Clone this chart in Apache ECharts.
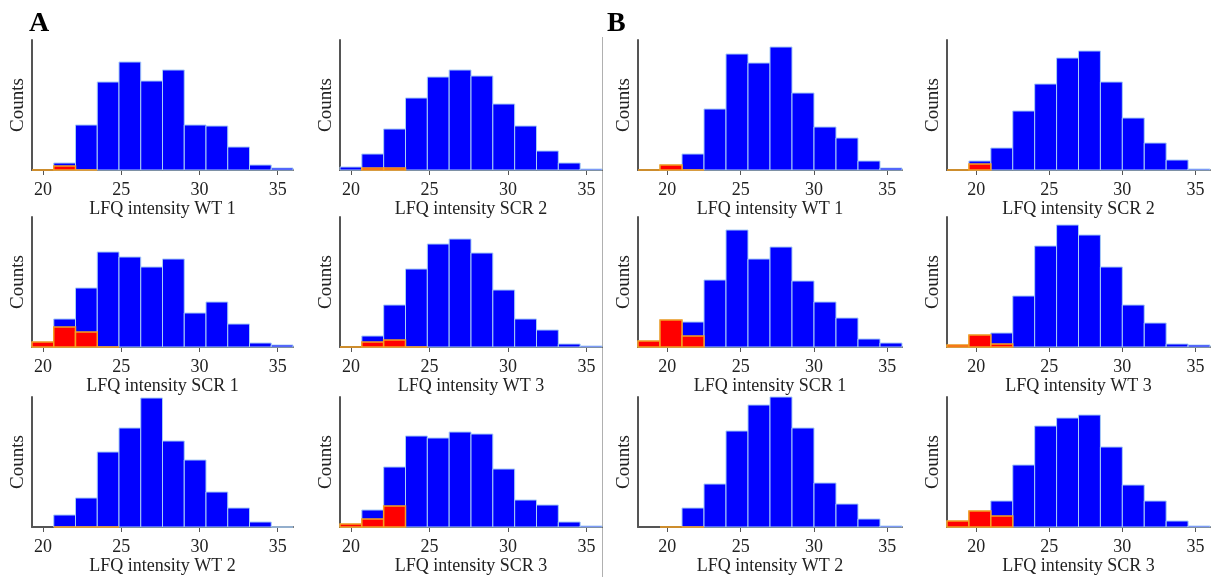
<!DOCTYPE html>
<html lang="en">
<head>
<meta charset="UTF-8">
<script src="https://cdn.jsdelivr.net/npm/echarts@6/dist/echarts.min.js"></script>
<title>LFQ intensity histograms</title>
<style>
  html, body { margin: 0; padding: 0; background: #fff; }
</style>
</head>
<body>
<div id="main" style="width: 1212px;height:577px;"></div>
<script type="text/javascript">
    // bin edges for the two blocks (A and B)
    var binsA = [19.3, 20.69, 22.08, 23.47, 24.86, 26.25, 27.64, 29.03, 30.42, 31.81, 33.2, 34.59, 35.98];
    var binsB = [18, 19.5, 21, 22.5, 24, 25.5, 27, 28.5, 30, 31.5, 33, 34.5, 36];
    var xTicks = [20, 25, 30, 35];

    // panel order: row by row, left to right inside each block
    var namesA = ['LFQ intensity WT 1', 'LFQ intensity SCR 2', 'LFQ intensity SCR 1', 'LFQ intensity WT 3', 'LFQ intensity WT 2', 'LFQ intensity SCR 3'];
    var namesB = ['LFQ intensity WT 1', 'LFQ intensity SCR 2', 'LFQ intensity SCR 1', 'LFQ intensity WT 3', 'LFQ intensity WT 2', 'LFQ intensity SCR 3'];

    // all proteins (blue)
    var allA_WT1  = [null, 7, 45, 88, 108, 89, 100, 45, 44, 23, 5, 2];
    var allA_SCR2 = [3, 16, 41, 72, 93, 100, 94, 66, 44, 19, 7, 1];
    var allA_SCR1 = [5, 28, 59, 95, 90, 80, 88, 34, 45, 23, 4, 2];
    var allA_WT3  = [null, 11, 42, 78, 103, 108, 94, 57, 28, 17, 3, 1];
    var allA_WT2  = [null, 12, 29, 75, 99, 129, 86, 67, 35, 19, 5, 0];
    var allA_SCR3 = [3, 17, 60, 91, 89, 95, 93, 58, 27, 22, 5, 1];

    var allB_WT1  = [null, 5, 16, 61, 116, 107, 123, 77, 43, 32, 9, 2];
    var allB_SCR2 = [null, 9, 22, 59, 86, 112, 119, 88, 52, 27, 10, 1];
    var allB_SCR1 = [6, 27, 25, 67, 117, 88, 100, 66, 45, 29, 8, 4];
    var allB_WT3  = [2, 12, 14, 51, 101, 122, 112, 80, 42, 24, 3, 2];
    var allB_WT2  = [null, null, 19, 43, 96, 122, 130, 99, 44, 23, 8, 1];
    var allB_SCR3 = [6, 16, 26, 62, 101, 109, 112, 80, 42, 26, 6, 1];

    // imputed values (red)
    var impA_WT1  = [0, 4, 0];
    var impA_SCR2 = [null, 2, 2];
    var impA_SCR1 = [5, 20, 15, 0];
    var impA_WT3  = [0, 5, 7, 0];
    var impA_WT2  = [null, 0, 0, 0];
    var impA_SCR3 = [3, 8, 21];

    var impB_WT1  = [0, 5, 0];
    var impB_SCR2 = [0, 6];
    var impB_SCR1 = [6, 27, 11];
    var impB_WT3  = [2, 12, 3];
    var impB_WT2  = [null, 0, 0];
    var impB_SCR3 = [6, 16, 11];

    var yMax = 130;

    var panels = [
        {bins: binsA, name: namesA[0], all: allA_WT1,  imp: impA_WT1},
        {bins: binsA, name: namesA[1], all: allA_SCR2, imp: impA_SCR2},
        {bins: binsB, name: namesB[0], all: allB_WT1,  imp: impB_WT1},
        {bins: binsB, name: namesB[1], all: allB_SCR2, imp: impB_SCR2},
        {bins: binsA, name: namesA[2], all: allA_SCR1, imp: impA_SCR1},
        {bins: binsA, name: namesA[3], all: allA_WT3,  imp: impA_WT3},
        {bins: binsB, name: namesB[2], all: allB_SCR1, imp: impB_SCR1},
        {bins: binsB, name: namesB[3], all: allB_WT3,  imp: impB_WT3},
        {bins: binsA, name: namesA[4], all: allA_WT2,  imp: impA_WT2},
        {bins: binsA, name: namesA[5], all: allA_SCR3, imp: impA_SCR3},
        {bins: binsB, name: namesB[4], all: allB_WT2,  imp: impB_WT2},
        {bins: binsB, name: namesB[5], all: allB_SCR3, imp: impB_SCR3}
    ];

    // layout
    var colLeft = [32, 340, 638, 947];
    var colWidth = [261, 262, 264, 263];
    var rowTop = [40, 217, 397];
    var rowHeight = 130;
    var serif = "'Liberation Serif', 'DejaVu Serif', serif";

    function toRows(bins, counts) {
        var out = [];
        for (var i = 0; i < counts.length; i++) {
            if (counts[i] === null) continue;
            out.push([bins[i], bins[i + 1], counts[i]]);
        }
        return out;
    }

    function makeRender(fill, stroke, lw) {
        return function (params, api) {
            var p0 = api.coord([api.value(0), 0]);
            var p1 = api.coord([api.value(1), api.value(2)]);
            return {
                type: 'rect',
                shape: {x: p0[0], y: p1[1], width: p1[0] - p0[0], height: p0[1] - p1[1]},
                style: {fill: fill, stroke: stroke, lineWidth: lw}
            };
        };
    }

    var grids = [], xAxes = [], yAxes = [], series = [];
    for (var k = 0; k < panels.length; k++) {
        var p = panels[k];
        var r = Math.floor(k / 4), c = k % 4;
        grids.push({left: colLeft[c], top: rowTop[r], width: colWidth[c], height: rowHeight});
        xAxes.push({
            gridIndex: k,
            type: 'value',
            min: p.bins[0],
            max: p.bins[p.bins.length - 1],
            name: p.name,
            nameLocation: 'middle',
            nameGap: 28,
            nameTextStyle: {fontFamily: serif, fontSize: 18, color: '#222'},
            axisLine: {show: true, onZero: false, lineStyle: {color: '#555', width: 2}},
            axisTick: {show: true, customValues: xTicks, length: 5, lineStyle: {color: '#555', width: 1}},
            axisLabel: {customValues: xTicks, fontFamily: serif, fontSize: 18, color: '#222', margin: 11},
            splitLine: {show: false}
        });
        yAxes.push({
            gridIndex: k,
            type: 'value',
            min: 0,
            max: yMax,
            name: 'Counts',
            nameLocation: 'middle',
            nameRotate: 90,
            nameGap: 4,
            nameTextStyle: {fontFamily: serif, fontSize: 19, color: '#222'},
            axisLine: {show: true, lineStyle: {color: '#555', width: 2}},
            axisTick: {show: false},
            axisLabel: {show: false},
            splitLine: {show: false}
        });
        series.push({
            type: 'custom',
            xAxisIndex: k,
            yAxisIndex: k,
            encode: {x: [0, 1], y: 2},
            renderItem: makeRender('#0000ff', '#a8cdf5', 1),
            data: toRows(p.bins, p.all),
            z: 2
        });
        series.push({
            type: 'custom',
            xAxisIndex: k,
            yAxisIndex: k,
            encode: {x: [0, 1], y: 2},
            renderItem: makeRender('#ff0000', '#f5a020', 1.5),
            data: toRows(p.bins, p.imp),
            z: 3
        });
    }

    var myChart = echarts.init(document.getElementById('main'), null, {renderer: 'canvas'});
    var option = {
        animation: false,
        backgroundColor: '#ffffff',
        title: [
            {text: 'A', left: 29, top: 10, padding: 0, textStyle: {fontFamily: serif, fontWeight: 'bold', fontSize: 28, color: '#000'}},
            {text: 'B', left: 607, top: 10, padding: 0, textStyle: {fontFamily: serif, fontWeight: 'bold', fontSize: 28, color: '#000'}}
        ],
        graphic: [
            {type: 'line', shape: {x1: 602.5, y1: 37, x2: 602.5, y2: 577}, style: {stroke: '#b0b0b0', lineWidth: 1}}
        ],
        grid: grids,
        xAxis: xAxes,
        yAxis: yAxes,
        series: series
    };
    myChart.setOption(option);
</script>
</body>
</html>
